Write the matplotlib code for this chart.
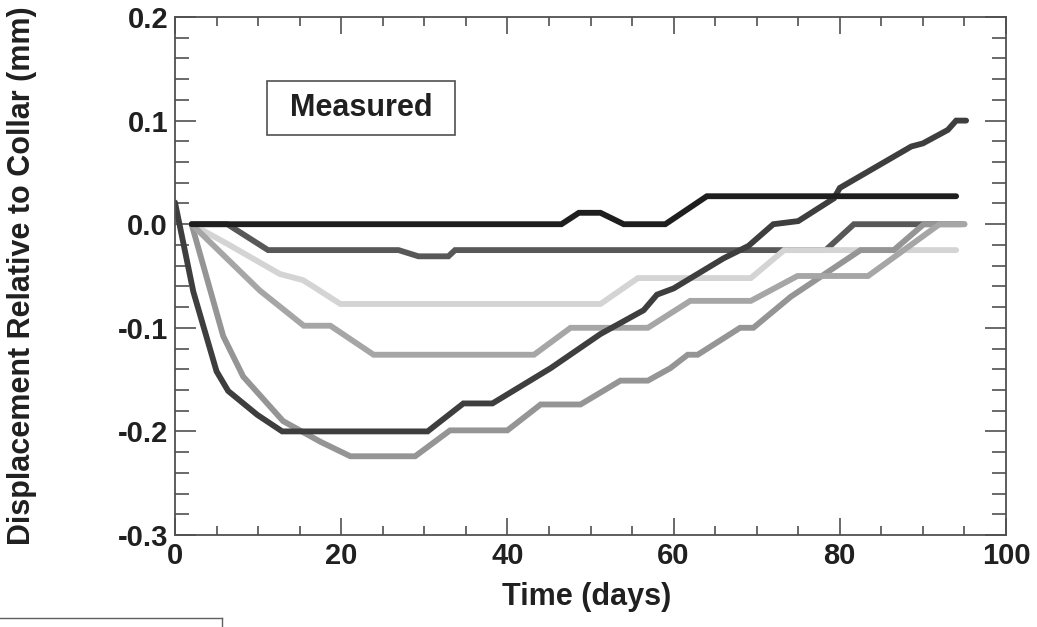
import matplotlib
matplotlib.use("Agg")
from matplotlib import pyplot as plt
from matplotlib.patches import Rectangle
from matplotlib.lines import Line2D
from matplotlib.ticker import MultipleLocator

# Measured displacement curves (days, mm)
s1_t = [2, 46.5, 48.6, 51.2, 54, 59, 64, 94]
s1_y = [0, 0, 0.011, 0.011, 0, 0, 0.027, 0.027]

s2_t = [2, 6.3, 11.2, 26.9, 29.3, 32.9, 33.7, 78.3, 81.7, 94.6]
s2_y = [0, 0, -0.025, -0.025, -0.031, -0.031, -0.025, -0.025, 0, 0]

s3_t = [0, 2.2, 5, 6.4, 9.9, 12.9, 30.4, 34.7, 38.2, 45.2, 51.2, 56.4, 58,
        60, 66, 69, 72, 75, 79.3, 80, 88.6, 90, 93, 94, 95.2]
s3_y = [0.021, -0.065, -0.142, -0.161, -0.184, -0.2, -0.2, -0.173, -0.173,
        -0.139, -0.106, -0.083, -0.068, -0.062, -0.033, -0.021, 0.0, 0.003,
        0.025, 0.035, 0.075, 0.078, 0.091, 0.1, 0.1]

s4_t = [2, 5.8, 8.2, 13, 17.5, 21.1, 28.9, 33.1, 40, 44, 48.8, 53.6, 56.9,
        59.6, 61.7, 62.9, 68, 69.6, 74.1, 82.5, 86.5, 90.1, 95]
s4_y = [0, -0.108, -0.147, -0.19, -0.21, -0.224, -0.224, -0.199, -0.199,
        -0.174, -0.174, -0.151, -0.151, -0.139, -0.126, -0.126, -0.1, -0.1,
        -0.07, -0.025, -0.025, 0, 0]

s5_t = [2, 10.2, 15.5, 18.7, 23.9, 43.2, 47.6, 56.9, 62, 69.3, 74.9, 83.4,
        92, 95]
s5_y = [0, -0.064, -0.098, -0.098, -0.126, -0.126, -0.1, -0.1, -0.074,
        -0.074, -0.05, -0.05, 0, 0]

s6_t = [2, 6.3, 12.6, 15.4, 16.6, 19.9, 51.2, 55.7, 69.3, 73.3, 94]
s6_y = [0, -0.019, -0.048, -0.054, -0.06, -0.077, -0.077, -0.052, -0.052,
        -0.025, -0.025]

plt.rcParams.update({
    "font.family": ["Liberation Sans", "DejaVu Sans"],
    "font.weight": "bold",
})

fig = plt.figure(figsize=(10.37, 6.27), dpi=100)
ax = fig.add_axes([175 / 1037, 1 - 535 / 627, 831 / 1037, 518 / 627])

# order matters: lighter lines sit above the dark-gray one
series = [
    (s2_t, s2_y, "#585858"),
    (s6_t, s6_y, "#d4d4d4"),
    (s4_t, s4_y, "#959595"),
    (s5_t, s5_y, "#a6a6a6"),
    (s3_t, s3_y, "#3e3e3e"),
    (s1_t, s1_y, "#1e1e1e"),
]
for t, y, c in series:
    ax.plot(t, y, color=c, lw=4.2, solid_capstyle="round", solid_joinstyle="miter")

ax.set_xlim(0, 100)
ax.set_ylim(-0.3, 0.2)
ax.xaxis.set_major_locator(MultipleLocator(20))
ax.xaxis.set_minor_locator(MultipleLocator(5))
ax.yaxis.set_major_locator(MultipleLocator(0.1))
ax.yaxis.set_minor_locator(MultipleLocator(0.02))
ax.set_yticklabels([f"{v:.1f}" for v in ax.get_yticks()])

for side in ax.spines.values():
    side.set_color("#505050")
    side.set_linewidth(1.3)

ax.tick_params(axis="both", which="both", direction="in", top=True, right=True,
               color="#505050", width=1.2, labelsize=21, labelcolor="#202020")
ax.tick_params(axis="x", which="major", length=12, pad=5)
ax.tick_params(axis="x", which="minor", length=6.5)
ax.tick_params(axis="y", which="major", length=15, pad=5)
ax.tick_params(axis="y", which="minor", length=10)
for lab in ax.get_xticklabels() + ax.get_yticklabels():
    lab.set_fontweight("bold")

# "Measured" box
ax.add_patch(Rectangle((11.1, 0.086), 22.6, 0.052, fill=False,
                       edgecolor="#505050", lw=1.2))
ax.text(22.4, 0.112, "Measured", ha="center", va="center", fontsize=22,
        fontweight="bold", color="#202020")

fig.text(587 / 1037, 1 - 597 / 627, "Time (days)", ha="center", va="center",
         fontsize=22, fontweight="bold", color="#202020")
fig.text(22 / 1037, 1 - 276 / 627, "Displacement Relative to Collar (mm)",
         rotation=90, ha="center", va="center", fontsize=22,
         fontweight="bold", color="#202020")

# scan remnant of a frame at lower left
fig.add_artist(Line2D([0, 222 / 1037], [1 - 618 / 627, 1 - 618 / 627],
                      color="#606060", lw=1.0))
fig.add_artist(Line2D([222 / 1037, 222 / 1037], [1 - 618 / 627, 0],
                      color="#606060", lw=1.0))

fig.savefig("out.png", dpi=100)
